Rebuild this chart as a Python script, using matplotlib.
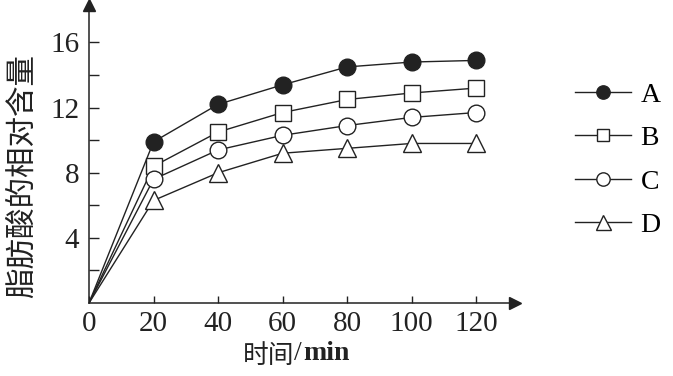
import matplotlib
matplotlib.use("Agg")
import matplotlib.pyplot as plt

# data
times = [0, 20, 40, 60, 80, 100, 120]
series_names = ["A", "B", "C", "D"]
vals_a = [0, 9.9, 12.2, 13.4, 14.5, 14.8, 14.9]
vals_b = [0, 8.4, 10.5, 11.7, 12.5, 12.9, 13.2]
vals_c = [0, 7.6, 9.4, 10.3, 10.9, 11.4, 11.7]
vals_d = [0, 6.3, 8.0, 9.2, 9.5, 9.8, 9.8]
xticks = [0, 20, 40, 60, 80, 100, 120]
yticks_major = [4, 8, 12, 16]
yticks_minor = [2, 6, 10, 14]

serif = ["Liberation Serif", "DejaVu Serif"]
cjk = ["Noto Sans CJK SC", "DejaVu Sans"]
ink = "#222222"

fig = plt.figure(figsize=(6.73, 3.76), dpi=100)
ax = fig.add_axes([0.1322, 0.194, 0.633, 0.7926])

styles = [
    dict(marker="o", mfc=ink, ms=12),
    dict(marker="s", mfc="white", ms=11),
    dict(marker="o", mfc="white", ms=12),
    dict(marker="^", mfc="white", ms=13.5),
]
for name, vals, st in zip(series_names, [vals_a, vals_b, vals_c, vals_d], styles):
    ax.plot(times[1:], vals[1:], color=ink, lw=1.0, mec=ink,
            mew=1.0, label=name, clip_on=False, zorder=3, **st)
    # segment from the origin, no marker there
    ax.plot(times[:2], vals[:2], color=ink, lw=1.0, zorder=2)

ax.set_xlim(0, 132)
ax.set_ylim(0, 18.3)

for s in ["top", "right"]:
    ax.spines[s].set_visible(False)
for s in ["left", "bottom"]:
    ax.spines[s].set_linewidth(1.1)
    ax.spines[s].set_color(ink)

# axis arrows
ax.plot(1, 0, ">", color=ink, ms=8, transform=ax.transAxes, clip_on=False)
ax.plot(0, 1, "^", color=ink, ms=8, transform=ax.transAxes, clip_on=False)

ax.set_xticks(xticks)
ax.set_xticklabels([str(t) for t in xticks], family=serif, fontsize=21)
ax.set_yticks(yticks_major)
ax.set_yticklabels([str(t) for t in yticks_major], family=serif, fontsize=21)
ax.set_yticks(yticks_minor, minor=True)
ax.tick_params(axis="x", direction="in", length=5, width=1.0, pad=6, colors=ink)
ax.tick_params(axis="y", which="both", direction="in", length=7, width=1.0, pad=7,
               colors=ink)

ax.set_ylabel("脂肪酸的相对含量", family=cjk, fontsize=22, color=ink)
ax.yaxis.set_label_coords(-0.12, 0.426)

# x label: chinese part + serif slash + bold serif unit
fig.text(294 / 673, 1 - 356 / 376, "时间", family=cjk, fontsize=18.5, color=ink,
         ha="right", va="center")
fig.text(294 / 673, 1 - 354 / 376, "/", family=serif, fontsize=20, color=ink,
         ha="left", va="center")
fig.text(303 / 673, 1 - 354 / 376, "min", family=serif, fontsize=20,
         fontweight="bold", color=ink, ha="left", va="center")

fig.legend(loc="center left", bbox_to_anchor=(0.855, 0.574), frameon=False,
           prop={"family": serif, "size": 20}, handlelength=2.0,
           handletextpad=0.35, labelspacing=0.65, borderpad=0, borderaxespad=0,
           markerscale=0.8)

fig.savefig("out.png", dpi=100)
